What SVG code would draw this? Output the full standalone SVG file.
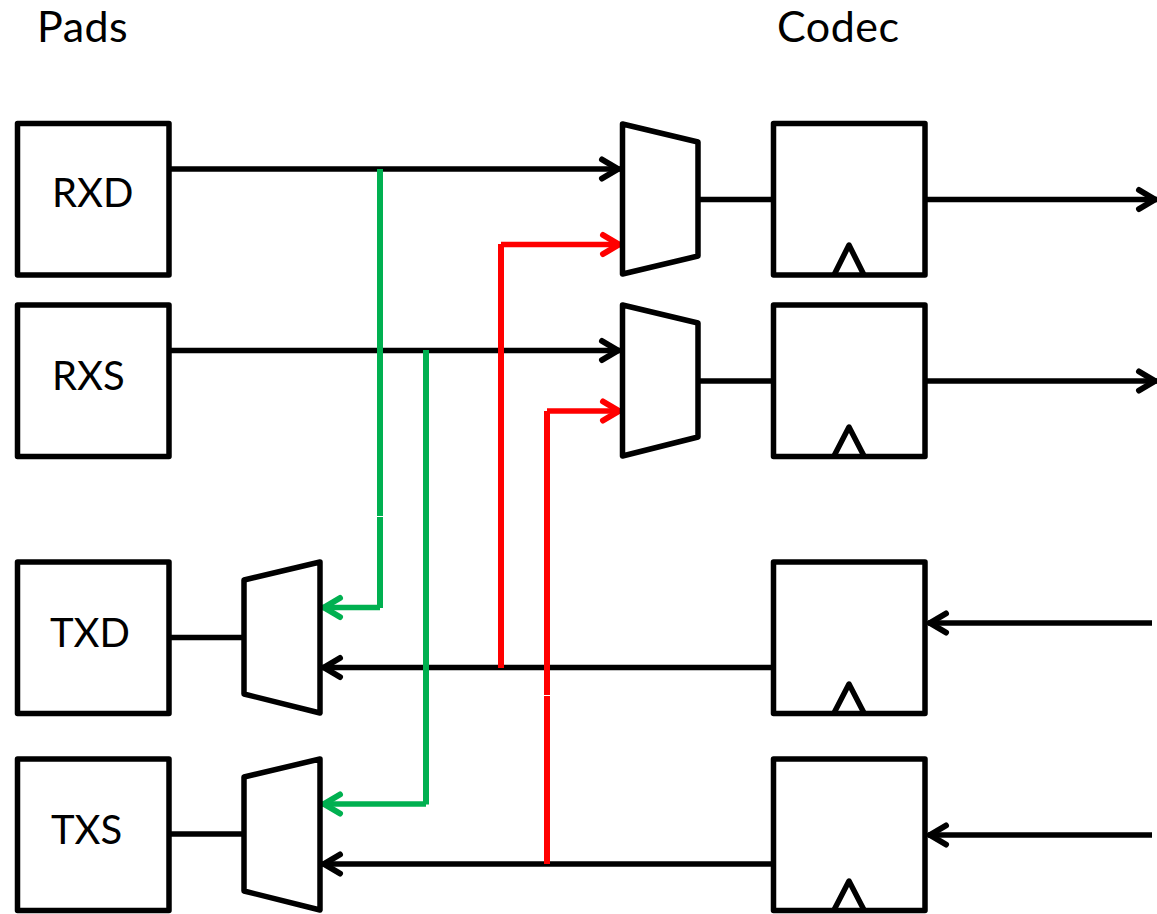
<svg xmlns="http://www.w3.org/2000/svg" width="1157" height="914" viewBox="0 0 1157 914">
<defs>
<style>
.b{fill:#fff;stroke:#000;stroke-width:5.500;stroke-linejoin:round}
.l{fill:none;stroke-width:5.500;stroke-linejoin:round;stroke-linecap:butt}
.k{stroke:#000}.g{stroke:#00b050}.r{stroke:#f00}
.v{stroke-width:6}
.t{font-family:"Lato","Noto Sans",sans-serif;font-size:40px;fill:#000}
.h{font-size:43px;letter-spacing:.5px}
</style>
<marker id="ak" markerUnits="userSpaceOnUse" markerWidth="32" markerHeight="32" refX="25" refY="15" orient="auto"><path d="M7 5.500L23 15L7 24.500" fill="none" stroke="#000" stroke-width="6" stroke-linecap="round"/></marker>
<marker id="ag" markerUnits="userSpaceOnUse" markerWidth="32" markerHeight="32" refX="25" refY="15" orient="auto"><path d="M7 5.500L23 15L7 24.500" fill="none" stroke="#00b050" stroke-width="6" stroke-linecap="round"/></marker>
<marker id="ar" markerUnits="userSpaceOnUse" markerWidth="32" markerHeight="32" refX="25" refY="15" orient="auto"><path d="M7 5.500L23 15L7 24.500" fill="none" stroke="#f00" stroke-width="6" stroke-linecap="round"/></marker>
</defs>
<rect width="1157" height="914" fill="#fff"/>
<text class="t h" x="37" y="42">Pads</text>
<text class="t h" x="777" y="42">Codec</text>
<g id="connectors">
<path class="l k" d="M170 169H620" marker-end="url(#ak)"/>
<path class="l k" d="M170 350.500H620" marker-end="url(#ak)"/>
<path class="l k" d="M698 199.500H773"/>
<path class="l k" d="M698 381H773"/>
<path class="l k" d="M926 199.500H1157" marker-end="url(#ak)"/>
<path class="l k" d="M926 381H1157" marker-end="url(#ak)"/>
<path class="l k" d="M1152 623H928" marker-end="url(#ak)"/>
<path class="l k" d="M1152 835H928" marker-end="url(#ak)"/>
<path class="l k" d="M773 667.500H322" marker-end="url(#ak)"/>
<path class="l k" d="M773 864H322" marker-end="url(#ak)"/>
<path class="l k" d="M170 637.500H244"/>
<path class="l k" d="M170 834H244"/>
<path class="l g v" d="M380 169V516"/>
<path class="l g v" d="M380 517V608"/>
<path class="l g" d="M380 607.500H322" marker-end="url(#ag)"/>
<path class="l g v" d="M426 350V804.500"/>
<path class="l g" d="M426 804H322" marker-end="url(#ag)"/>
<path class="l r v" d="M501 668V244"/>
<path class="l r" d="M501 244.500H621" marker-end="url(#ar)"/>
<path class="l r v" d="M547 864V696"/>
<path class="l r v" d="M547 695V411"/>
<path class="l r" d="M547 411H621" marker-end="url(#ar)"/>
</g>
<g id="RXD"><rect class="b" x="17.500" y="123.500" width="151.500" height="151.500"/><text class="t" x="52" y="207">RXD</text></g>
<g id="RXS"><rect class="b" x="17.500" y="305" width="151.500" height="151.500"/><text class="t" x="52" y="390">RXS</text></g>
<g id="TXD"><rect class="b" x="17.500" y="562" width="151.500" height="151.500"/><text class="t" x="50" y="647">TXD</text></g>
<g id="TXS"><rect class="b" x="17.500" y="759" width="151.500" height="151.500"/><text class="t" x="51" y="844">TXS</text></g>
<g id="mux-rx-1"><path class="b" d="M622.500 124L698 142V256L622.500 274Z"/></g>
<g id="mux-rx-2"><path class="b" d="M622.500 305L698 323V437L622.500 456Z"/></g>
<g id="mux-tx-1"><path class="b" d="M320 562L244 580V694L320 713Z"/></g>
<g id="mux-tx-2"><path class="b" d="M320 759L244 777V891L320 910Z"/></g>
<g id="codec-1"><rect class="b" x="773.500" y="123.500" width="151.500" height="151.500"/><path class="l k" d="M834 275L849 245L864 275"/></g>
<g id="codec-2"><rect class="b" x="773.500" y="305" width="151.500" height="151.500"/><path class="l k" d="M834 456L849 427L864 456"/></g>
<g id="codec-3"><rect class="b" x="773.500" y="562" width="151.500" height="151.500"/><path class="l k" d="M834 713L849 684L864 713"/></g>
<g id="codec-4"><rect class="b" x="773.500" y="759" width="151.500" height="151.500"/><path class="l k" d="M834 910L849 881L864 910"/></g>
</svg>
